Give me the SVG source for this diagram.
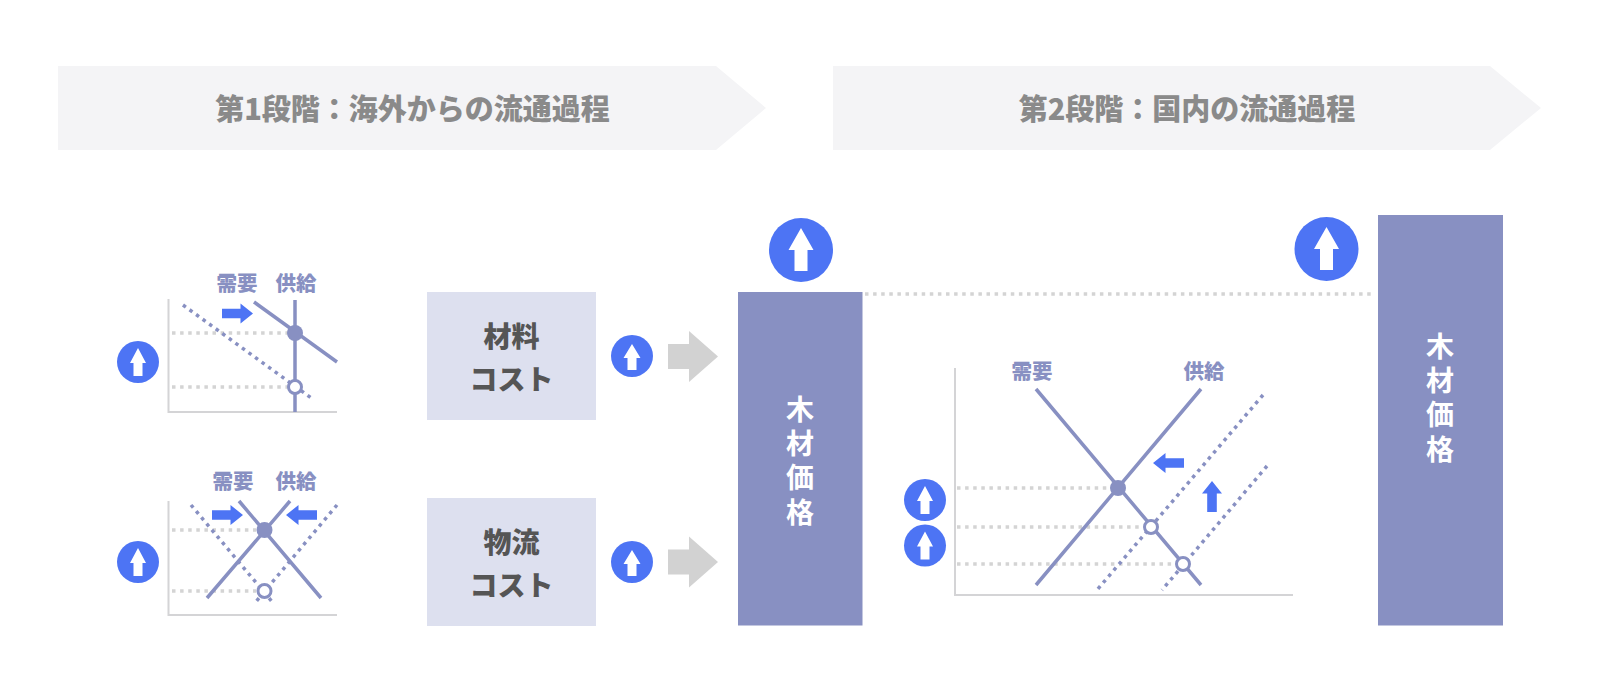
<svg xmlns="http://www.w3.org/2000/svg" width="1600" height="692" viewBox="0 0 1600 692">
<style>
text{font-family:"Noto Sans CJK JP","Noto Sans",sans-serif;font-weight:700;text-anchor:middle}
.ban{fill:#f4f4f6}
.bt{font-size:29px;fill:#8a8a8a;font-weight:900}
.lab{font-size:20.500px;fill:#8890c2;font-weight:900}
.box{fill:#dde0ef}
.bxt{font-size:28px;fill:#555;font-weight:900}
.bar{fill:#8890c2}
.bart{font-size:28px;fill:#fff;writing-mode:vertical-rl;text-anchor:start;letter-spacing:6.300px}
.ax{stroke:#d4d4d6;stroke-width:2;fill:none}
.s{stroke:#8890c2;stroke-width:3.500;fill:none}
.d{stroke:#8890c2;stroke-width:3.500;fill:none;stroke-dasharray:3.500 4.600}
.g{stroke:#d4d4d4;stroke-width:3.500;fill:none;stroke-dasharray:3.500 4.600}
.fd{fill:#8890c2}
.od{fill:#fff;stroke:#8890c2;stroke-width:3}
.ba{fill:#4d74f4}
.ga{fill:#d2d2d2}
.w{fill:#fff}
</style>
<defs>
<g id="up"><circle r="21" class="ba"/><path class="w" d="M0-14L8 1H4.500V14H-4.500V1H-8Z"/></g>
<g id="ups"><circle r="21" class="ba"/><path class="w" d="M0-12L8.500 2H4.500V14H-4.500V2H-8.500Z"/></g>
<g id="upb"><circle r="32" class="ba"/><path class="w" d="M0-22L12.500 0H6.500V21H-6.500V0H-12.500Z"/></g>
<path id="ar" class="ba" d="M-16-4.800H2.500V-10L15 0L2.500 10V4.800H-16Z"/>
<path id="ga" class="ga" d="M0-12.500H21V-25.500L50 0L21 25.500V12.500H0Z"/>
</defs>
<g id="banner1"><path class="ban" d="M58 66H716L766 108L716 150H58Z"/><text class="bt" x="412.500" y="120">第1段階：海外からの流通過程</text></g>
<g id="banner2"><path class="ban" d="M833 66H1490L1541 108L1490 150H833Z"/><text class="bt" x="1187" y="120">第2段階：国内の流通過程</text></g>

<g id="connectors">
<path class="g" d="M865 294H1375"/>
<use href="#ga" x="668" y="356.500"/>
<use href="#ga" x="668" y="562"/>
</g>

<g id="chart1">
<path class="ax" d="M168.500 299V412H337"/>
<path class="g" d="M172 333H288M172 387H288"/>
<path class="d" d="M183 305L314 400"/>
<path class="s" d="M254 302L337 362M295 300V412"/>
<circle class="fd" cx="295" cy="333" r="8"/>
<circle class="od" cx="295" cy="387" r="6.500"/>
<use href="#ar" x="238" y="313.500"/>
<text class="lab" x="237" y="290.500">需要</text><text class="lab" x="296" y="290.500">供給</text>
<use href="#up" x="138" y="362"/>
</g>

<g id="chart2">
<path class="ax" d="M168.500 501V615H337"/>
<path class="g" d="M172 530H256M172 591H256"/>
<path class="d" d="M191 505L274 604M337 505L254 604"/>
<path class="s" d="M239 501L321 598M290 501L207 598"/>
<circle class="fd" cx="264.500" cy="530" r="8"/>
<circle class="od" cx="264.500" cy="591" r="6.500"/>
<use href="#ar" x="228" y="515"/>
<use href="#ar" transform="translate(301 515) scale(-1 1)"/>
<text class="lab" x="233" y="488.500">需要</text><text class="lab" x="296" y="488.500">供給</text>
<use href="#up" x="138" y="562"/>
</g>

<g id="material"><rect class="box" x="427" y="292" width="169" height="128"/><text class="bxt" x="511.500" y="346.500">材料</text><text class="bxt" x="511.500" y="389.500">コスト</text></g>
<g id="logistics"><rect class="box" x="427" y="498" width="169" height="128"/><text class="bxt" x="511.500" y="552.500">物流</text><text class="bxt" x="511.500" y="595.500">コスト</text></g>
<g id="up-material"><use href="#ups" x="632" y="356"/></g>
<g id="up-logistics"><use href="#ups" x="632" y="562"/></g>

<g id="bar1"><rect class="bar" x="738" y="292" width="124.500" height="333.500"/>
<text class="bart" x="800" y="395">木材価格</text></g>
<g id="up1"><use href="#upb" x="801" y="250"/></g>

<g id="chart3">
<path class="ax" d="M955 368V595H1293"/>
<path class="g" d="M957 488H1108M957 527H1142M957 564H1175"/>
<path class="d" d="M1263 395L1097 590M1267 466L1162 590"/>
<path class="s" d="M1036 389L1201 585M1201 389L1036 585"/>
<circle class="fd" cx="1118" cy="488" r="8"/>
<circle class="od" cx="1151" cy="527" r="6.500"/>
<circle class="od" cx="1183" cy="564" r="6.500"/>
<use href="#ar" transform="translate(1168 463) scale(-1 1)"/>
<use href="#ar" transform="translate(1212 496) rotate(-90)"/>
<text class="lab" x="1032" y="378.500">需要</text><text class="lab" x="1204" y="378.500">供給</text>
<use href="#up" x="925" y="500"/>
<use href="#up" x="925" y="545.500"/>
</g>

<g id="bar2"><rect class="bar" x="1378" y="215" width="125" height="410.500"/>
<text class="bart" x="1440" y="332">木材価格</text></g>
<g id="up2"><use href="#upb" x="1326.500" y="249"/></g>
</svg>
